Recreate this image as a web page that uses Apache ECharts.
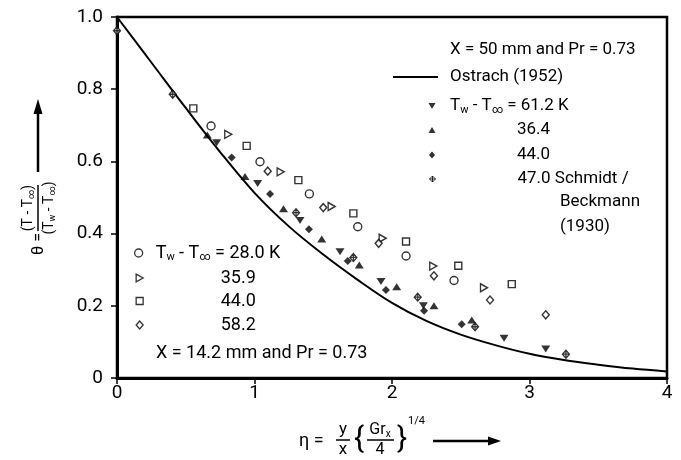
<!DOCTYPE html>
<html><head><meta charset="utf-8">
<script src="https://cdn.jsdelivr.net/npm/echarts@6/dist/echarts.min.js"></script>
<style>html,body{margin:0;padding:0;background:#fff}#c{width:681px;height:460px}</style>
</head><body><div id="c"></div>
<script>
// ---- data ----
const xTicks = [0, 1, 2, 3, 4];
const yTicks = [0, 0.2, 0.4, 0.6, 0.8, 1.0];
// Ostrach (1952) similarity solution
const ostrachEta   = [0, 0.25, 0.5, 0.75, 1.0, 1.25, 1.5, 1.75, 2.0, 2.25, 2.5, 2.75, 3.0, 3.25, 3.5, 3.75, 4.0];
const ostrachTheta = [1.0, 0.874, 0.748, 0.626, 0.513, 0.42, 0.342, 0.272, 0.208, 0.158, 0.120, 0.091, 0.067, 0.050, 0.037, 0.026, 0.018];
// X = 14.2 mm (open symbols)
const c280Eta   = [0.684, 1.04, 1.399, 1.751, 2.102, 2.451];
const c280Theta = [0.698, 0.599, 0.51, 0.419, 0.338, 0.27];
const r359Eta   = [0.809, 1.19, 1.561, 1.932, 2.3, 2.669];
const r359Theta = [0.675, 0.571, 0.475, 0.387, 0.31, 0.25];
const s440Eta   = [0.555, 0.943, 1.319, 1.719, 2.102, 2.482, 2.871];
const s440Theta = [0.747, 0.643, 0.548, 0.456, 0.378, 0.311, 0.26];
const d582Eta   = [1.096, 1.5, 1.903, 2.305, 2.713, 3.118];
const d582Theta = [0.573, 0.472, 0.373, 0.283, 0.216, 0.175];
// X = 50 mm (filled symbols)
const v612Eta   = [0.725, 1.023, 1.331, 1.622, 1.92, 2.228, 2.815, 3.118];
const v612Theta = [0.652, 0.539, 0.436, 0.35, 0.267, 0.2, 0.11, 0.08];
const u364Eta   = [0.657, 0.931, 1.211, 1.489, 1.762, 2.034, 2.305, 2.58];
const u364Theta = [0.673, 0.558, 0.469, 0.385, 0.313, 0.253, 0.2, 0.161];
const f440Eta   = [0.834, 1.113, 1.396, 1.678, 1.956, 2.233, 2.507];
const f440Theta = [0.611, 0.51, 0.412, 0.324, 0.244, 0.186, 0.149];
// Schmidt / Beckmann (1930)
const x470Eta   = [0, 0.405, 1.302, 1.719, 2.187, 2.604, 3.265];
const x470Theta = [0.962, 0.786, 0.458, 0.334, 0.224, 0.142, 0.066];

// ---- chart ----
const FONT = 'Roboto, "DejaVu Sans", sans-serif';
const pts = (xs, ys) => xs.map((x, i) => [x, ys[i]]);
const SYM = {
  cross: 'path://M0,-10L10,0L0,10L-10,0Z M0,-10L0,10 M-10,0L10,0',
  right: 'path://M0,0L11,6L0,12Z',
  down: 'path://M0,0L12,0L6,10Z',
  up: 'path://M6,0L12,10L0,10Z'
};
const openStyle = {color: '#fff', borderColor: '#000', borderWidth: 1.4};
const fillStyle = {color: '#000', borderWidth: 0};
const crossStyle = {color: '#fff', borderColor: '#000', borderWidth: 1.3};

const series = [
  {name: 'ostrach', type: 'line', data: pts(ostrachEta, ostrachTheta), smooth: 0.35, symbol: 'none',
   itemStyle: {color: '#000'}, lineStyle: {color: '#000', width: 2}, z: 1, silent: true},
  {name: 'c280', type: 'scatter', symbol: 'circle', symbolSize: 8, data: pts(c280Eta, c280Theta), itemStyle: openStyle, z: 3},
  {name: 'r359', type: 'scatter', symbol: SYM.right, symbolSize: [7, 8], data: pts(r359Eta, r359Theta), itemStyle: openStyle, z: 3},
  {name: 's440', type: 'scatter', symbol: 'rect', symbolSize: 7, data: pts(s440Eta, s440Theta), itemStyle: openStyle, z: 3},
  {name: 'd582', type: 'scatter', symbol: 'diamond', symbolSize: [7, 8], data: pts(d582Eta, d582Theta), itemStyle: openStyle, z: 3},
  {name: 'v612', type: 'scatter', symbol: SYM.down, symbolSize: [9, 7], data: pts(v612Eta, v612Theta), itemStyle: fillStyle, z: 3},
  {name: 'u364', type: 'scatter', symbol: SYM.up, symbolSize: [9, 7], data: pts(u364Eta, u364Theta), itemStyle: fillStyle, z: 3},
  {name: 'f440', type: 'scatter', symbol: 'diamond', symbolSize: [8, 8], data: pts(f440Eta, f440Theta), itemStyle: fillStyle, z: 3},
  {name: 'x470', type: 'scatter', symbol: SYM.cross, symbolSize: [7, 8], data: pts(x470Eta, x470Theta), itemStyle: crossStyle, z: 4}
];

const richTop = {
  n: {fontSize: 17, fontFamily: FONT, color: '#000', lineHeight: 20},
  s: {fontSize: 11, fontFamily: FONT, color: '#000', lineHeight: 12, padding: [8, 0, 0, 0]}
};
const richBot = {
  n: {fontSize: 18, fontFamily: FONT, color: '#000', lineHeight: 20},
  s: {fontSize: 11, fontFamily: FONT, color: '#000', lineHeight: 12, padding: [8, 0, 0, 0]}
};
function leg(name, icon, w, h, left, cy, pad, text, rich, itemStyle) {
  const d = {name};
  if (icon) d.icon = icon;
  if (itemStyle) d.itemStyle = itemStyle;
  return {
    show: true, data: [d], left: left, top: cy - 10, padding: 0, itemWidth: w, itemHeight: h,
    selectedMode: false, formatter: () => text,
    textStyle: {padding: [0, 0, 0, pad], lineHeight: 20, fontFamily: FONT, color: '#000', rich: rich}
  };
}
const legends = [
  leg('ostrach', 'rect', 45, 2, 393, 77, 7, '{n|Ostrach (1952)}', richTop, {color: '#000', borderWidth: 0}),
  leg('v612', SYM.down, 7, 6, 428.5, 106, 9.5, '{n|T}{s|w}{n| - T}{s|∞}{n| = 61.2 K}', richTop, {color: '#000', borderWidth: 0}),
  leg('u364', SYM.up, 7, 6, 428.5, 130, 76.5, '{n|36.4}', richTop, {color: '#000', borderWidth: 0}),
  leg('f440', 'diamond', 6, 7, 429, 155, 77, '{n|44.0}', richTop, {color: '#000', borderWidth: 0}),
  leg('x470', SYM.cross, 6, 7, 429, 179, 77, '{n|47.0 Schmidt /}', richTop, {color: '#fff', borderColor: '#000', borderWidth: 1}),
  leg('c280', 'circle', 8, 8, 134, 253, 8, '{n|T}{s|w}{n| - T}{s|∞}{n| = 28.0 K}', richBot, {color: '#fff', borderColor: '#000', borderWidth: 1.3}),
  leg('r359', SYM.right, 7, 8, 135.5, 278, 72.5, '{n|35.9}', richBot, {color: '#fff', borderColor: '#000', borderWidth: 1.3}),
  leg('s440', 'rect', 7, 7, 135.5, 301, 72.5, '{n|44.0}', richBot, {color: '#fff', borderColor: '#000', borderWidth: 1.3}),
  leg('d582', 'diamond', 7, 8, 135.5, 325, 72.5, '{n|58.2}', richBot, {color: '#fff', borderColor: '#000', borderWidth: 1.3})
];

const T = (x, y, text, size, extra) => Object.assign({
  type: 'text', x: x, y: y,
  style: Object.assign({text: text, fontSize: size, fontFamily: FONT, fill: '#000', align: 'left', verticalAlign: 'middle'}, (extra && extra.style) || {})
}, extra && extra.rotation !== undefined ? {rotation: extra.rotation} : {});
const L = (x1, y1, x2, y2, w) => ({type: 'line', shape: {x1, y1, x2, y2}, style: {stroke: '#000', lineWidth: w}});
const richAxis = {
  a: {fontSize: 16, fontFamily: FONT, fill: '#000', color: '#000', lineHeight: 18},
  s: {fontSize: 10, fontFamily: FONT, fill: '#000', color: '#000', lineHeight: 10, padding: [8, 0, 0, 0]}
};
const richY = {
  a: {fontSize: 14, fontFamily: FONT, fill: '#000', color: '#000', lineHeight: 16},
  s: {fontSize: 9, fontFamily: FONT, fill: '#000', color: '#000', lineHeight: 9, padding: [7, 0, 0, 0]}
};
const R90 = Math.PI / 2;
const graphics = [
  // annotations
  T(450, 50, 'X = 50 mm and Pr = 0.73', 17),
  T(560, 202, 'Beckmann', 17),
  T(560, 227, '(1930)', 17),
  T(156, 353, 'X = 14.2 mm and Pr = 0.73', 18),
  // y-axis title (rotated)
  L(38, 172, 38, 112, 2.5),
  {type: 'polygon', shape: {points: [[38, 99], [33.5, 114], [42.5, 114]]}, style: {fill: '#000'}},
  T(39, 244, 'θ =', 16, {rotation: R90, style: {align: 'center'}}),
  L(38, 185, 38, 231, 1.5),
  T(28, 208, '{a|(T - T}{s|∞}{a|)}', 14, {rotation: R90, style: {align: 'center', rich: richY}}),
  T(49, 208, '{a|(T}{s|w}{a| - T}{s|∞}{a|)}', 14, {rotation: R90, style: {align: 'center', rich: richY}}),
  // x-axis title
  T(299, 441, 'η =', 18),
  T(343, 430, 'y', 17, {style: {align: 'center'}}),
  L(336, 440, 350, 440, 1.5),
  T(343, 450, 'x', 17, {style: {align: 'center'}}),
  T(359, 440, '{', 30, {style: {align: 'center'}}),
  T(380, 430, '{a|Gr}{s|x}', 16, {style: {align: 'center', rich: richAxis}}),
  L(367, 440, 394, 440, 1.5),
  T(380, 450, '4', 16, {style: {align: 'center'}}),
  T(402, 440, '}', 30, {style: {align: 'center'}}),
  T(408, 421, '1/4', 11),
  L(433, 441, 490, 441, 2.5),
  {type: 'polygon', shape: {points: [[501, 441], [488, 436.5], [488, 445.5]]}, style: {fill: '#000'}}
];

const chart = echarts.init(document.getElementById('c'), null, {renderer: 'canvas'});
chart.setOption({
  animation: false,
  backgroundColor: '#fff',
  grid: {left: 117, top: 17, width: 550, height: 361, show: true, borderColor: '#000', borderWidth: 2.5,
         backgroundColor: 'transparent', containLabel: false, outerBoundsMode: 'none'},
  xAxis: {
    type: 'value', min: xTicks[0], max: xTicks[xTicks.length - 1], interval: 1,
    axisLine: {show: true, lineStyle: {color: '#000', width: 3}},
    axisTick: {show: true, length: 6, lineStyle: {color: '#000', width: 1.5}},
    axisLabel: {show: true, color: '#000', fontSize: 19, fontFamily: FONT, margin: 6,
                formatter: v => xTicks.includes(v) ? String(v) : ''},
    splitLine: {show: false}
  },
  yAxis: {
    type: 'value', min: yTicks[0], max: yTicks[yTicks.length - 1], interval: 0.2,
    axisLine: {show: true, lineStyle: {color: '#000', width: 3}},
    axisTick: {show: true, length: 6, lineStyle: {color: '#000', width: 1.5}},
    axisLabel: {show: true, color: '#000', fontSize: 19, fontFamily: FONT, margin: 14,
                formatter: v => Math.abs(v) < 1e-9 ? '0' : v.toFixed(1)},
    splitLine: {show: false}
  },
  legend: legends,
  tooltip: {show: false},
  series: series,
  graphic: graphics
});
</script>
</body></html>
